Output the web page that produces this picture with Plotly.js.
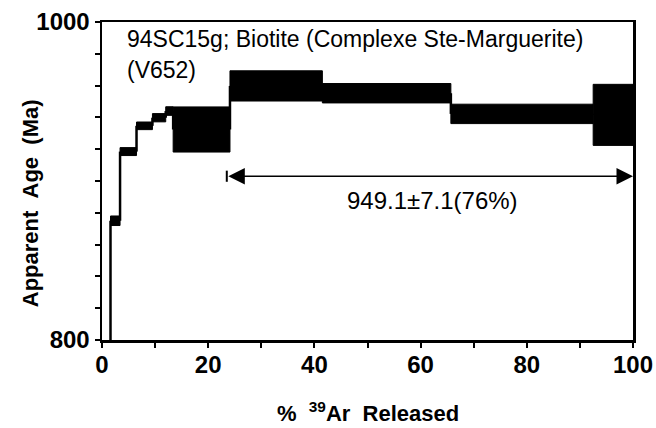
<!DOCTYPE html>
<html>
<head>
<meta charset="utf-8">
<script src="https://cdn.plot.ly/plotly-3.0.1.min.js"></script>
<style>html,body{margin:0;padding:0;background:#fff;}#chart{width:656px;height:428px;}</style>
</head>
<body>
<div id="chart"></div>
<script>
// Cumulative % 39Ar released at step boundaries
const cumPct = [0, 1.6, 3.4, 6.5, 9.5, 12.0, 13.4, 24.1, 41.5, 65.7, 92.5, 100];
// Apparent age (Ma) of each step and its error (half box height)
const ages = [760, 875.0, 918.5, 934.7, 939.8, 944.0, 932.4, 959.8, 955.2, 942.2, 941.6];
const errs = [3.0, 3.0, 2.5, 2.4, 2.6, 2.7, 14.2, 9.5, 6.1, 6.1, 19.2];
// Plateau
const plateauStart = [23.5];
const plateauEnd = [100];
const plateauLabel = ["949.1\u00b17.1(76%)"];
// Ticks
const xTickVals = [0, 10, 20, 30, 40, 50, 60, 70, 80, 90, 100];
const xTickText = ["0", "", "20", "", "40", "", "60", "", "80", "", "100"];
const yTickVals = [800, 820, 840, 860, 880, 900, 920, 940, 960, 980, 1000];
const yTickText = ["800", "", "", "", "", "", "", "", "", "", "1000"];
const sampleLines = ["94SC15g; Biotite (Complexe Ste-Marguerite)", "(V652)"];

const FONT = "Liberation Sans, Arial, Helvetica, sans-serif";

const mid = [], wid = [], base = [], hgt = [];
for (let i = 0; i < ages.length; i++) {
  mid.push((cumPct[i] + cumPct[i + 1]) / 2);
  wid.push(cumPct[i + 1] - cumPct[i]);
  base.push(ages[i] - errs[i]);
  hgt.push(2 * errs[i]);
}
const rx = [], ry = [];
for (let i = 1; i < ages.length; i++) {
  rx.push(cumPct[i], cumPct[i], null);
  ry.push(ages[i - 1], ages[i], null);
}

const traces = [
  {type: "bar", x: mid, width: wid, base: base, y: hgt,
   marker: {color: "#000", line: {color: "#000", width: 1}},
   hoverinfo: "skip"},
  {type: "scatter", mode: "lines", x: rx, y: ry,
   line: {color: "#000", width: 2.5}, hoverinfo: "skip"}
];

const pAge = 903;
const layout = {
  width: 656, height: 428,
  margin: {l: 102, r: 23, t: 22, b: 88},
  paper_bgcolor: "#fff", plot_bgcolor: "#fff",
  showlegend: false, barmode: "overlay", bargap: 0,
  xaxis: {range: [0, 100], tickvals: xTickVals, ticktext: xTickText,
    ticks: "outside", ticklen: 5, tickwidth: 2, tickcolor: "#000",
    ticklabelstandoff: -3,
    showline: true, linewidth: 2.5, linecolor: "#000", mirror: true,
    showgrid: false, zeroline: false,
    tickfont: {family: FONT, size: 24, color: "#000", weight: "bold"}},
  yaxis: {range: [800, 1000], tickvals: yTickVals, ticktext: yTickText,
    ticks: "outside", ticklen: 5, tickwidth: 2, tickcolor: "#000",
    showline: true, linewidth: 2.5, linecolor: "#000", mirror: true,
    showgrid: false, zeroline: false,
    tickfont: {family: FONT, size: 24, color: "#000", weight: "bold"}},
  shapes: [
    {type: "line", xref: "x", yref: "y", x0: plateauStart[0], x1: plateauStart[0],
     y0: pAge - 3.5, y1: pAge + 3.5, line: {color: "#000", width: 2}}
  ],
  annotations: [
    {xref: "x", yref: "y", axref: "x", ayref: "y",
     x: plateauEnd[0], y: pAge, ax: plateauStart[0], ay: pAge,
     text: "", showarrow: true, arrowside: "end+start", arrowhead: 2,
     arrowsize: 2.2, arrowwidth: 1.5, arrowcolor: "#000", standoff: 0, startstandoff: 0},
    {xref: "x", yref: "y", x: 62.3, y: 887.7, text: plateauLabel[0], showarrow: false,
     font: {family: FONT, size: 24, color: "#000"}, xanchor: "center", yanchor: "middle"},
    {xref: "paper", yref: "paper", x: 0.044, y: 0.945, text: sampleLines[0], showarrow: false,
     font: {family: FONT, size: 23, color: "#000"}, xanchor: "left", yanchor: "middle"},
    {xref: "paper", yref: "paper", x: 0.044, y: 0.849, text: sampleLines[1], showarrow: false,
     font: {family: FONT, size: 23, color: "#000"}, xanchor: "left", yanchor: "middle"},
    {xref: "paper", yref: "paper", x: -0.1356, y: 0.43, textangle: -90,
     text: "Apparent\u00a0\u00a0Age\u00a0\u00a0(Ma)", showarrow: false,
     font: {family: FONT, size: 22, color: "#000", weight: "bold"}, xanchor: "center", yanchor: "middle"},
    {xref: "paper", yref: "paper", x: 0.5, y: -0.226,
     text: "%\u00a0\u00a0<sup>39</sup>Ar\u00a0\u00a0Released", showarrow: false,
     font: {family: FONT, size: 22, color: "#000", weight: "bold"}, xanchor: "center", yanchor: "middle"}
  ]
};

Plotly.newPlot("chart", traces, layout, {displayModeBar: false, staticPlot: true});
</script>
</body>
</html>
